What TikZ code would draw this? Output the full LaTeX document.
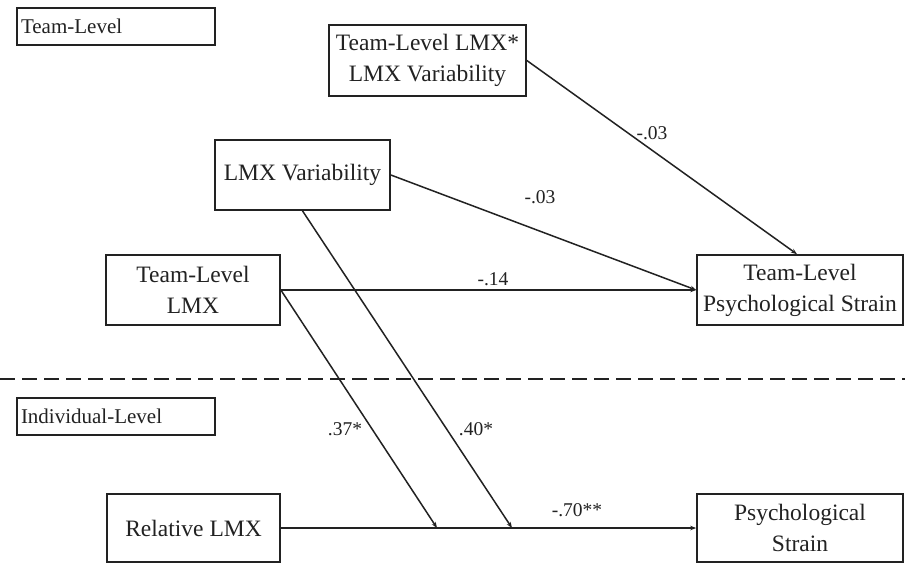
\documentclass[tikz,border=0pt]{standalone}
\usepackage{fontspec}
\setmainfont{Liberation Serif}
\usetikzlibrary{arrows.meta,calc}
\definecolor{ink}{HTML}{222222}
\begin{document}
\begin{tikzpicture}[x=1pt,y=-1pt,
  box/.style={draw=ink,line width=1.7pt,text=ink,inner sep=0pt,align=center,
    font=\fontsize{23.5}{31}\selectfont},
  lvl/.style={draw=ink,line width=1.7pt,text=ink,inner sep=0pt,
    minimum width=198pt,minimum height=37pt,text width=190pt,align=left,
    font=\fontsize{21}{24}\selectfont},
  conn/.style={draw=ink,line width=1.5pt,-{Stealth[length=6pt,width=4.5pt]}},
  lab/.style={text=ink,inner sep=0pt,font=\fontsize{19.5}{22}\selectfont}]
\useasboundingbox (0,0) rectangle (905,563);
\fill[white] (0,0) rectangle (905,563);

\node[lvl] (lvlteam) at (116,26.5) {Team-Level};
\node[lvl] (lvlind) at (116,416.5) {Individual-Level};

\node[box,minimum width=197pt,minimum height=71pt] (int) at (427.5,60.5) {Team-Level LMX*\\LMX Variability};
\node[box,minimum width=175pt,minimum height=70pt] (var) at (302.5,175) {LMX Variability};
\node[box,minimum width=174pt,minimum height=70pt] (tlmx) at (193,290) {Team-Level\\LMX};
\node[box,minimum width=206pt,minimum height=70pt] (tps) at (800,290) {Team-Level\\Psychological Strain};
\node[box,minimum width=173pt,minimum height=68pt] (rlmx) at (193.5,528) {Relative LMX};
\node[box,minimum width=206pt,minimum height=68pt] (ps) at (800,528) {Psychological\\Strain};

\draw[ink,line width=1.8pt,dash pattern=on 15pt off 7pt] (0,379) -- (905,379);

\coordinate (m1) at (437,528);
\coordinate (m2) at (512,528);

\draw[conn] (int.east) -- ($(tps.north)+(-3,0)$);
\draw[conn] (var.east) -- (tps.west);
\draw[conn] (tlmx.east) -- (tps.west);
\draw[conn] (var.south) -- (m2);
\draw[conn] (tlmx.east) -- (m1);
\draw[conn] (rlmx.east) -- (ps.west);

\node[lab] (l1) at (652,133) {-.03};
\node[lab] (l2) at (540,197) {-.03};
\node[lab] (l3) at (493,279) {-.14};
\node[lab] (l4) at (345,429) {.37*};
\node[lab] (l5) at (476,429) {.40*};
\node[lab] (l6) at (577,510) {-.70**};
\end{tikzpicture}
\end{document}
